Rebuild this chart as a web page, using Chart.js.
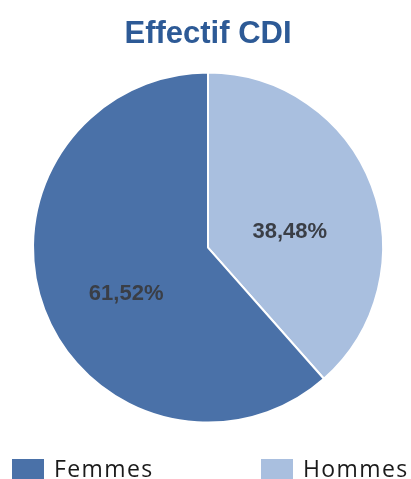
<!DOCTYPE html>
<html lang="fr">
  <head>
    <meta charset="utf-8" />
    <title>Effectif CDI</title>
    <style>
      body { margin: 0; background: #fff; }
      .wrap { position: relative; width: 411px; height: 479px; }
      .legend { position: absolute; top: 457px; left: 0; width: 411px; height: 22px; font-family: "Open Sans", sans-serif; font-size: 23px; color: #1a1a1a; letter-spacing: 1.4px; }
      .item { position: absolute; top: 0; line-height: 22px; }
      .item span { display: inline-block; width: 32px; height: 20px; vertical-align: top; margin-top: 2px; margin-right: 10px; }
    </style>
  </head>
  <body>
    <div class="wrap">
      <canvas id="chart" width="411" height="479"></canvas>
      <div class="legend" id="legend"></div>
    </div>

    <script src="https://cdn.jsdelivr.net/npm/chart.js@4.4.1/dist/chart.umd.min.js"></script>
    <script>
      // data
      const labels = ["Hommes", "Femmes"];
      const values = [38.48, 61.52];
      const colors = ["#a9bfdf", "#4a71a8"];
      const legendOrder = ["Femmes", "Hommes"];
      const legendX = [12, 261];

      // percent labels inside the slices
      const sliceLabels = {
        id: "sliceLabels",
        afterDatasetsDraw(chart) {
          const ctx = chart.ctx;
          const meta = chart.getDatasetMeta(0);
          ctx.save();
          ctx.font = "bold 22px 'Liberation Sans', Arial, sans-serif";
          ctx.fillStyle = "#3a3e46";
          ctx.textAlign = "center";
          ctx.textBaseline = "middle";
          meta.data.forEach((arc, i) => {
            const mid = (arc.startAngle + arc.endAngle) / 2;
            const r = arc.outerRadius * 0.5;
            const x = arc.x + Math.cos(mid) * r;
            const y = arc.y + Math.sin(mid) * r + 15;
            ctx.fillText(values[i].toFixed(2).replace(".", ",") + "%", x, y);
          });
          ctx.restore();
        },
      };

      const context = document.getElementById("chart").getContext("2d");
      new Chart(context, {
        type: "pie",
        data: {
          labels: labels,
          datasets: [
            {
              data: values,
              backgroundColor: colors,
              borderColor: "#ffffff",
              borderWidth: 2,
              hoverOffset: 0,
            },
          ],
        },
        options: {
          responsive: false,
          animation: false,
          layout: { padding: { left: 32, right: 27, bottom: 55 } },
          plugins: {
            legend: { display: false },
            tooltip: { enabled: false },
            title: {
              display: true,
              text: "Effectif CDI",
              color: "#2d5a96",
              font: { family: "'Liberation Sans', Arial, sans-serif", size: 31, weight: "bold" },
              padding: { top: 16, bottom: 18 },
            },
          },
        },
        plugins: [sliceLabels],
      });

      // legend below the pie
      const legend = document.getElementById("legend");
      legendOrder.forEach((name, i) => {
        const el = document.createElement("div");
        el.className = "item";
        el.style.left = legendX[i] + "px";
        el.innerHTML = '<span style="background:' + colors[labels.indexOf(name)] + '"></span>' + name;
        legend.appendChild(el);
      });
    </script>
  </body>
</html>
